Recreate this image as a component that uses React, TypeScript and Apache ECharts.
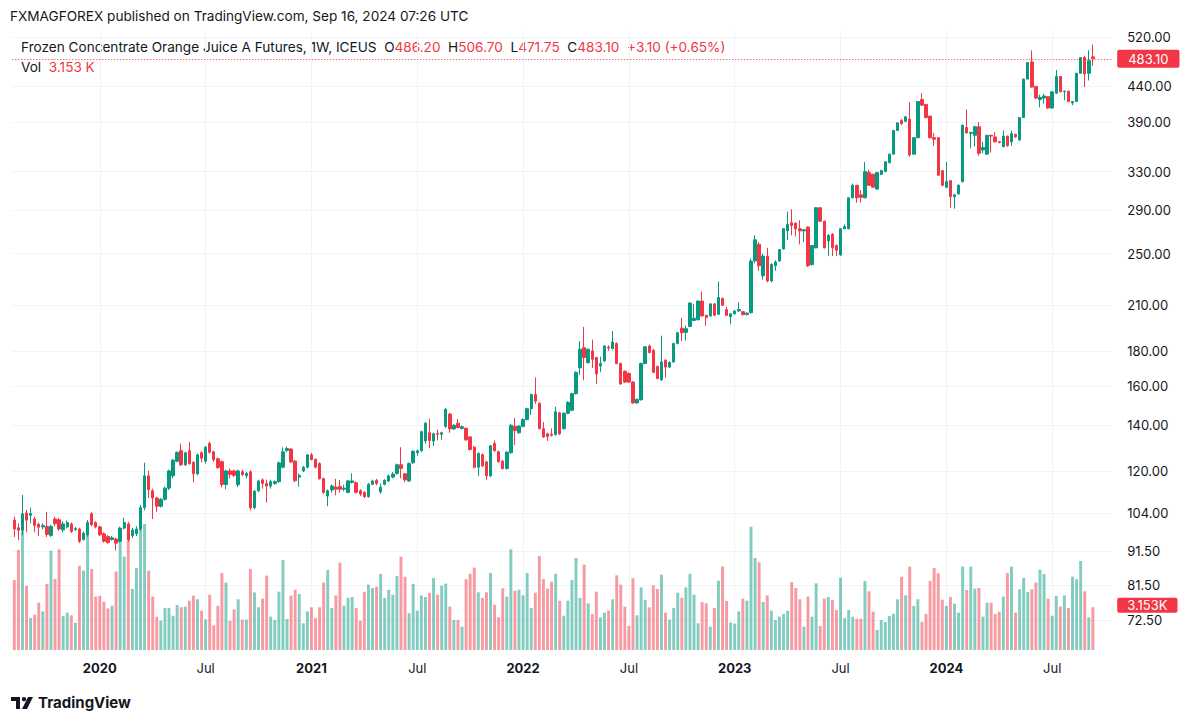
import React, { useEffect, useRef } from 'react';
import * as echarts from 'echarts';

const firstWeek = '2019-08-12';
const padWeeks = 4;

// weekly candles: [open, close, low, high]
const ohlc: number[][] = [
  [101.6,98.6,96,102.8],[99,98.2,95,100.5],[98.3,103.8,96.5,110.6],[104.1,101.6,97.5,105.2],[103.3,103.9,100.5,106],
  [102,99.8,97.5,102.8],[100.2,99.2,96.3,100.8],[99.3,99.8,98.5,100.5],[99.4,96.8,96,104.5],[96.5,99.5,96,100],
  [102,100.4,99.5,102.8],[101.7,98.6,98,102.3],[98.3,100.3,97.5,101.2],[99.3,100.8,98.8,101.5],[100.3,97.8,97.3,100.8],
  [98.4,98.8,98,99.3],[98.6,94.6,94,99],[95.2,97.2,94.8,97.8],[96.7,100.8,96,101.7],[103.8,100,99.5,104.5],
  [100.8,99.3,98.8,101.2],[99.3,96.7,96.3,99.7],[97,94.6,94.2,97.5],[96.1,94.2,93.8,96.6],[95.2,95.7,94.8,96.3],
  [95.3,94,91.7,95.8],[94.6,98.9,94.2,99.4],[98.9,100.8,98.5,102.5],[100.3,95.2,94.5,101],[96.4,98.3,95.6,99],
  [97,98.6,96.3,99.5],[98.6,106,98,107],[106,118,105,123.4],[118,112.6,109.5,120],[112.2,109.5,102,113],
  [109.5,106.5,104.5,110],[106.5,109,106,109.5],[109,113.2,108.5,113.8],[113.2,120,112.5,120.5],[118,124.4,117,125],
  [124,127.7,123.5,128.2],[128.5,122.5,122,131.6],[122.5,127.6,122,128],[128.5,123,122.5,132.3],[123.5,118.8,115.4,124],
  [118.8,126.7,118.3,127.2],[127.6,125.2,123.5,128.2],[124,130,123,130.5],[131.6,127.8,127.2,132.5],[128,124.6,123.7,128.5],
  [125,121.4,120.8,125.6],[123.8,114.6,113.5,124.3],[114.6,120,112.8,120.5],[120,118.6,117,121],[120,118.2,117.5,120.5],
  [114.5,120,113.6,120.5],[119.7,118.5,118,120.5],[118,119,117,119.5],[119.6,105.9,105,120.3],[106,112,105.5,112.5],
  [112.2,116,111.8,116.4],[116.4,115,113,117],[115,114,107.8,116.5],[114,115.7,113,116.5],[115,115.7,114.5,116.2],
  [115.7,123.3,115.3,123.8],[121.5,128,121,129.9],[128.6,129.4,127.8,130.3],[129.2,123.7,123.2,129.7],[124,116.1,115.5,124.5],
  [117.5,118.2,113.8,119],[120,121.5,119.5,122],[121.5,126.7,121,127],[126.7,124.7,124.3,127.5],[124.7,121.5,121,125.2],
  [123,116.9,116.5,123.5],[116.9,111.6,111,117.3],[110.2,112.2,106.5,112.7],[112.5,114,111.5,114.6],[113.6,112.8,110.5,116.8],
  [113.8,112.8,111.5,116.4],[112.8,113.2,112,114.5],[111.6,116,111.2,116.4],[115.4,116,115,119],[115.3,111.6,111.2,115.8],
  [112.2,111,110.2,112.8],[111.6,110,109.5,112],[110,114.7,109.6,115.2],[114.7,116,114.3,116.5],[116.2,115,114.3,116.8],
  [111.8,113.5,111,115],[114.7,116.2,114.2,116.7],[116,118,115.5,118.5],[117.5,118.7,117,119.5],[119,122.5,118.5,123],
  [122.5,121,117,130],[118.8,116.4,115.5,119.2],[116,123,115.6,123.5],[123.3,128.2,123,128.7],[127.6,128.4,126.3,129],
  [128.5,137,128,137.5],[132.8,141,131.5,141.5],[136.5,133,129.5,143.1],[132.7,136,130.5,136.5],[136.2,135.8,133,138],
  [135.8,136.5,133.3,137],[139.4,147.8,138.8,148.3],[145.4,138.3,136.5,146],[138.3,140,137.8,140.5],[141,139,138.5,143],
  [138.5,139.3,138,140],[138.6,133.3,132.8,139],[134.6,129,128.5,135],[130,121.5,121,130.5],[121.5,127.3,118,127.8],
  [126.8,122,121.5,127.3],[123.7,118,116.5,124.2],[118,130.6,117.5,131],[131.6,128.5,128,133],[128,123.8,123.3,128.5],
  [124,121,120.5,124.5],[121,127.8,120.5,128.3],[127.6,140,127.2,140.5],[139.5,137.5,131,143.5],[136.5,139.6,136,140],
  [139.5,142.8,139,143.3],[142.8,148.1,142.3,148.6],[148,155.3,145,155.8],[155.3,151.9,150.5,164.5],[150.8,138.4,138,151.3],
  [138.4,134.6,134.2,141.5],[136,134.8,132.8,136.5],[135.8,135.3,134.8,138.5],[135.7,146.5,135.2,149],[146,136,135.5,146.5],
  [138.4,145.8,138,146.3],[145.8,151.3,145.3,151.8],[147.3,155.8,146.8,156.3],[155.8,167.4,155.3,168],[170,181,166,186],
  [182,176,163,195.2],[173,181,172.5,181.5],[180,175,170,187],[176,166.5,161,176.5],[171,172.5,167.5,176.5],
  [174,183,173.5,183.5],[182.3,181.7,180,183.5],[181.4,185.5,181,192.5],[184.6,172.5,172,185.2],[172.5,161,160.5,173],
  [168,162,161.5,168.5],[166.8,162,161.5,167.5],[162,151,150.5,162.5],[151,152.8,150.5,153.3],[152.6,172.5,152.2,173],
  [172.5,182.5,172,183],[183,179,178.5,184],[180.4,167.4,167,181],[170.8,164,163.5,171.3],[163.2,173.4,162.7,189.5],
  [174.4,170.4,164.5,175],[170.4,173.2,170,173.7],[173.4,184.6,173,185],[184.6,191.4,184,192],[194.4,191.4,186,201.4],
  [191.6,194,186.5,196],[195.5,211.6,195,212],[199.5,201,199,211],[200,213,199.5,213.5],[213,202.6,202,220],
  [203,201.5,196,203.5],[202.6,211,202,211.5],[211,203,202.5,211.5],[203.7,215.6,203.2,227.6],[215,210,209.5,215.5],
  [207,203,202.5,209],[202,204,197,204.5],[204,206,203.5,206.5],[206,207,205.5,212],[205.5,203.5,203,206],
  [203.5,204.5,203,205],[204.8,243.8,204.3,246],[244,262,242,266],[258,240,236,260],[232,248,229,250],
  [248,228,227,255],[228,241,227,242],[240,243,236,244.5],[244,253.5,243,254],[254,272,253.5,272.5],
  [270,276,262,288],[277.5,275,266,290.5],[277,272,265,278],[272,270,258,280],[270,271,260,271.5],
  [273.6,240,239,274],[241,257,240,257.5],[255,292,254.5,292.5],[292,279,278.5,292.5],[279,255,254.5,279.5],
  [261,266,248,267],[267,255,248,268],[257,253,248,258],[249,272,248,272.5],[272,274,271.5,276],
  [272,302,271.5,302.5],[302,315,301.5,317],[315,302,297,315.5],[305,302.5,297,310],[302,330,301.5,341],
  [329,315,314.5,332],[327,313,312.5,327.5],[311,329,310.5,329.5],[327,331,326,332],[330,341,329.5,341.5],
  [340,350,339.5,350.5],[350,379,349.5,379.5],[379,389,378.5,389.5],[392,388,386,394],[391,397,390,398],
  [394,349,347,417],[350,370,349.5,370.5],[370,418,369.5,418.5],[421,413,412,430],[414,396,395,414.5],
  [398,370,369,398.5],[370,368,360,376],[370,326,325,370.5],[331,315,314,331.5],[313,319,312,341],
  [320,303,292,320.5],[303,305,291,306],[306,315,305,316],[319,386,318,386.5],[383,376,375,407],
  [375.5,376.5,357,377.5],[373,384,359,385],[384,351,348,390],[355,358,351,365],[350,373,349,373.5],
  [373,372,352,373.5],[371,365,364,377],[365,364,363,366],[359,372,358,379],[372,360,359,372.5],
  [365,375,360,379],[374,371,370,375],[367,396,366.5,396.5],[396,451,395.5,451.5],[451,477,450.5,477.5],
  [478,439,438,497],[440,423,422,440.5],[421,424,410,428],[423,426,415,429],[425,409,408,425.5],
  [409,432,408.5,432.5],[430,455,429.5,465],[455,432,431.5,455.5],[432,433,420,434],[433,418,417,433.5],
  [416,418,413,419],[418,460,417.5,460.5],[460,485,459.5,485.5],[485,459,439,488],[460,480,449,497],
  [486.2,483.1,471.75,506.7],
];

const volumes: number[] = [
  5170,7380,8930,4740,2360,2610,3490,2850,4870,7330,
  5240,7430,2510,2760,2560,2020,6220,5860,8700,5980,
  3940,3990,3570,3070,3270,5800,8270,6890,8700,4500,
  6050,9200,9300,5850,3940,2460,2170,3100,3100,2530,
  3320,3150,3200,3640,4010,3740,2900,2260,4080,1820,
  3270,5680,4970,2160,3000,3740,2240,2240,5980,4250,
  3150,3790,5490,2460,2210,4300,6640,2290,4010,4450,
  4130,1970,2850,3150,2360,3150,4970,5900,3100,4030,
  6450,3270,3840,3910,3100,2160,4300,4820,4570,4670,
  5610,3840,4450,4080,5460,6890,5410,2710,4870,2900,
  4030,3910,4210,5310,4080,4750,4900,3200,2210,2210,
  1720,5220,5630,6080,4260,3840,4260,5680,3350,2410,
  4550,3940,7430,4380,4450,4030,5680,3100,4230,6940,
  5240,4530,5040,5630,3640,2530,3640,5170,6790,3840,
  6300,3440,2660,4300,2410,2760,2900,3740,5510,4820,
  3200,1770,5290,2560,4620,3690,3150,4770,4500,5560,
  2760,2240,3100,4230,3860,4620,5630,4080,1970,3540,
  3440,1720,3100,5120,6170,3620,2040,1940,2850,3790,
  3640,9100,6790,6470,3540,4030,2900,2210,2460,2660,
  2900,5020,4580,3740,1720,3940,2460,4920,1770,3790,
  3910,3690,2950,5340,2360,2950,2460,2310,2310,5090,
  4330,2830,1480,2210,2070,2510,2680,3740,5410,4030,
  6150,3250,3740,2070,2660,5090,6050,5660,3710,3250,
  3910,3420,2760,6170,4430,6150,4530,4580,2460,3490,
  3490,2660,2830,3940,5680,6150,2760,4480,5310,4280,
  4480,4970,5930,5610,3790,2530,3990,3200,4030,3100,
  5410,5220,6570,4330,2410,3153,
];

const priceTicks = [72.5, 81.5, 91.5, 104, 120, 140, 160, 180, 210, 250, 290, 330, 390, 440, 520];
const prevClose = 480.0;

const UP = '#089981';
const DOWN = '#f23645';
const TEXT = '#131722';
const GRID = '#f0f3fa';
const FONT = 'Inter, "Noto Sans", "DejaVu Sans", sans-serif';

function buildCategories(): string[] {
  const out: string[] = [];
  const start = new Date(firstWeek + 'T00:00:00Z').getTime();
  for (let i = 0; i < ohlc.length + padWeeks; i++) {
    const d = new Date(start + i * 7 * 86400000);
    out.push(d.toISOString().slice(0, 10));
  }
  return out;
}

function markKind(v: string): string | null {
  const m = Number(v.slice(5, 7));
  const day = Number(v.slice(8, 10));
  if (day > 7) return null;
  if (m === 1) return 'year';
  if (m === 7) return 'jul';
  return null;
}

export default function App() {
  const ref = useRef<HTMLDivElement>(null);
  useEffect(() => {
    if (!ref.current) return;
    const chart = echarts.init(ref.current, undefined, { renderer: 'svg' });
    const categories = buildCategories();
    const last = ohlc[ohlc.length - 1];
    const lastClose = last[1];
    const chg = lastClose - prevClose;
    const pct = (chg / prevClose) * 100;
    const sign = chg >= 0 ? '+' : '';
    const lastVol = volumes[volumes.length - 1];
    const volText = (lastVol / 1000).toFixed(3);

    const volData = volumes.map((v, i) => ({
      value: v,
      itemStyle: { color: ohlc[i][1] >= ohlc[i][0] ? 'rgba(8,153,129,0.5)' : 'rgba(242,54,69,0.5)' },
    }));

    const option: any = {
      animation: false,
      backgroundColor: '#ffffff',
      textStyle: { fontFamily: FONT },
      grid: [
        { left: 12.3, right: 88.8, top: 30, bottom: 72 },
        { left: 12.3, right: 88.8, top: 500, bottom: 72 },
      ],
      xAxis: [
        {
          type: 'category',
          gridIndex: 0,
          data: categories,
          boundaryGap: true,
          axisLine: { show: false },
          axisTick: { show: false },
          axisLabel: {
            interval: (_i: number, v: string) => markKind(v) !== null,
            formatter: (v: string) => (markKind(v) === 'year' ? '{y|' + v.slice(0, 4) + '}' : 'Jul'),
            color: TEXT,
            fontSize: 13,
            fontFamily: FONT,
            margin: 11,
            rich: { y: { fontWeight: 'bold', fontSize: 13, color: TEXT, fontFamily: FONT } },
          },
          splitLine: {
            show: true,
            alignWithLabel: true,
            interval: (_i: number, v: string) => markKind(v) !== null,
            lineStyle: { color: GRID, width: 1 },
          },
        },
        { type: 'category', gridIndex: 1, data: categories, show: false, boundaryGap: true },
      ],
      yAxis: [
        {
          type: 'log',
          logBase: 10,
          gridIndex: 0,
          position: 'right',
          min: 65.51,
          max: 532.4,
          axisLine: { show: false },
          axisTick: { show: false, customValues: priceTicks },
          axisLabel: {
            customValues: priceTicks,
            formatter: (v: number) => Number(v).toFixed(2),
            color: TEXT,
            fontSize: 13,
            lineHeight: 12,
            fontFamily: FONT,
            margin: 16,
            align: 'left',
          },
          splitLine: { show: true, lineStyle: { color: GRID, width: 1 } },
        },
        { type: 'value', gridIndex: 1, min: 0, max: 11070, show: false, splitLine: { show: false } },
      ],
      series: [
        {
          type: 'bar',
          name: 'Vol',
          xAxisIndex: 1,
          yAxisIndex: 1,
          data: volData,
          barWidth: '72%',
          silent: true,
          markLine: {
            silent: true,
            symbol: ['none', 'none'],
            data: [{ yAxis: lastVol }],
            lineStyle: { color: 'rgba(255,255,255,0)', width: 1, type: 'solid' },
            label: {
              show: true,
              position: 'end',
              distance: 6,
              offset: [0, -2],
              formatter: volText + 'K',
              color: '#ffffff',
              backgroundColor: DOWN,
              padding: [1, 10, 1, 10],
              lineHeight: 13,
              borderRadius: 2,
              fontSize: 13,
              fontFamily: FONT,
            },
          },
        },
        {
          type: 'candlestick',
          name: 'OJ',
          xAxisIndex: 0,
          yAxisIndex: 0,
          data: ohlc,
          barWidth: '72%',
          silent: true,
          itemStyle: { color: UP, color0: DOWN, borderColor: UP, borderColor0: DOWN, borderWidth: 1 },
          markLine: {
            silent: true,
            symbol: ['none', 'none'],
            data: [{ yAxis: lastClose }],
            lineStyle: { color: DOWN, type: [1, 2], width: 1 },
            label: {
              show: true,
              position: 'end',
              distance: 6,
              formatter: lastClose.toFixed(2),
              color: '#ffffff',
              backgroundColor: DOWN,
              padding: [2, 11, 2, 11],
              lineHeight: 14,
              borderRadius: 2,
              fontSize: 13,
              fontFamily: FONT,
            },
          },
        },
      ],
      graphic: [
        {
          type: 'text',
          left: 10,
          top: 9,
          style: {
            text: 'FXMAGFOREX published on TradingView.com, Sep 16, 2024 07:26 UTC',
            fill: TEXT,
            fontSize: 13.6,
            fontFamily: FONT,
          },
        },
        {
          type: 'text',
          left: 21,
          top: 40,
          style: {
            text:
              '{n|Frozen Concentrate Orange Juice A Futures, 1W, ICEUS}  {k|O}{v|' + last[0].toFixed(2) +
              '}  {k|H}{v|' + last[3].toFixed(2) + '}  {k|L}{v|' + last[2].toFixed(2) +
              '}  {k|C}{v|' + lastClose.toFixed(2) + '}  {v|' + sign + chg.toFixed(2) + ' (' + sign + pct.toFixed(2) + '%)}',
            fontSize: 13.6,
            fontFamily: FONT,
            fill: TEXT,
            rich: {
              n: { fontSize: 13.6, fontFamily: FONT, fill: TEXT, color: TEXT },
              k: { fontSize: 13.6, fontFamily: FONT, fill: TEXT, color: TEXT },
              v: { fontSize: 13.6, fontFamily: FONT, fill: DOWN, color: DOWN },
            },
          },
        },
        {
          type: 'text',
          left: 21,
          top: 60,
          style: {
            text: '{k|Vol}  {v|' + volText + ' K}',
            fontSize: 13.6,
            fontFamily: FONT,
            fill: TEXT,
            rich: {
              k: { fontSize: 13.6, fontFamily: FONT, fill: TEXT, color: TEXT },
              v: { fontSize: 13.6, fontFamily: FONT, fill: DOWN, color: DOWN },
            },
          },
        },
        {
          type: 'group',
          left: 11,
          top: 697,
          children: [
            { type: 'polygon', shape: { points: [[0, 0], [9, 0], [9, 12], [5, 12], [5, 4], [0, 4]] }, style: { fill: TEXT } },
            { type: 'circle', shape: { cx: 13, cy: 2.2, r: 2.2 }, style: { fill: TEXT } },
            { type: 'polygon', shape: { points: [[17, 0], [22, 0], [16, 12], [11, 12]] }, style: { fill: TEXT } },
          ],
        },
        {
          type: 'text',
          left: 38,
          top: 695,
          style: { text: 'TradingView', fill: TEXT, fontSize: 15, fontWeight: 'bold', fontFamily: FONT },
        },
      ],
    };

    chart.setOption(option);
    return () => chart.dispose();
  }, []);

  return (
    <div
      ref={ref}
      style={{ position: 'fixed', left: 0, top: 0, width: 1200, height: 722, background: '#ffffff' }}
    />
  );
}
